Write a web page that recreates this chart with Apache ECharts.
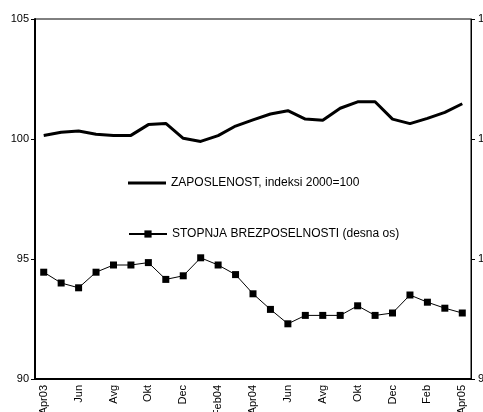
<!DOCTYPE html>
<html>
<head>
<meta charset="utf-8">
<script src="https://cdn.jsdelivr.net/npm/echarts@6/dist/echarts.min.js"></script>
<style>
    html, body { margin: 0; padding: 0; background: #fff; }
    #chart { width: 483px; height: 412px; }
</style>
</head>
<body>
<div id="chart"></div>
<script>
//======================================================================================================================
// Data
//======================================================================================================================

var months = ['Apr03', 'Maj', 'Jun', 'Jul', 'Avg', 'Sep', 'Okt', 'Nov', 'Dec', 'Jan', 'Feb04', 'Mar',
              'Apr04', 'Maj', 'Jun', 'Jul', 'Avg', 'Sep', 'Okt', 'Nov', 'Dec', 'Jan', 'Feb', 'Mar', 'Apr05'];

var employment = [100.15, 100.28, 100.33, 100.2, 100.15, 100.15, 100.6, 100.65, 100.03, 99.9, 100.14, 100.54,
                  100.8, 101.04, 101.18, 100.83, 100.78, 101.28, 101.55, 101.55, 100.83, 100.64, 100.86, 101.11, 101.47];

var unemployment = [9.89, 9.8, 9.76, 9.89, 9.95, 9.95, 9.97, 9.83, 9.86, 10.01, 9.95, 9.87,
                    9.71, 9.58, 9.46, 9.53, 9.53, 9.53, 9.61, 9.53, 9.55, 9.7, 9.64, 9.59, 9.55];

var leftTicks = { min: 90, max: 105, interval: 5 };
var rightTicks = { min: 9, max: 12, interval: 1 };

var seriesNames = ['ZAPOSLENOST, indeksi 2000=100', 'STOPNJA BREZPOSELNOSTI (desna os)'];

//======================================================================================================================
// Chart
//======================================================================================================================

var font = 'Liberation Sans, Arial, sans-serif';
var axisText = { color: '#000', fontFamily: font, fontSize: 11 };
var legendText = { color: '#000', fontFamily: font, fontSize: 12 };

echarts.init(document.getElementById('chart')).setOption({
    backgroundColor: '#fff',
    animation: false,
    grid: {
        left: 35, right: 12, top: 19, bottom: 33,
        outerBoundsMode: 'none',
        containLabel: false,
        show: true, borderColor: '#000', borderWidth: 1
    },
    legend: [{
        left: 128, top: 177, padding: 0,
        itemWidth: 38, itemHeight: 3,
        icon: 'rect',
        textStyle: legendText,
        data: [seriesNames[0]]
    }, {
        left: 128, top: 228, padding: 0,
        itemWidth: 38, itemHeight: 9,
        textStyle: legendText,
        data: [seriesNames[1]]
    }],
    xAxis: {
        type: 'category',
        data: months,
        boundaryGap: true,
        axisLine: { lineStyle: { color: '#000', width: 2 } },
        axisTick: { interval: 0, length: 4, lineStyle: { color: '#000' } },
        axisLabel: Object.assign({ interval: 1, rotate: 90, margin: 6 }, axisText),
        splitLine: { show: false }
    },
    yAxis: [{
        type: 'value',
        min: leftTicks.min, max: leftTicks.max, interval: leftTicks.interval,
        axisLine: { show: true, lineStyle: { color: '#000', width: 2 } },
        axisTick: { show: true, length: 4, lineStyle: { color: '#000' } },
        axisLabel: Object.assign({ margin: 6 }, axisText),
        splitLine: { show: false }
    }, {
        type: 'value',
        position: 'right',
        min: rightTicks.min, max: rightTicks.max, interval: rightTicks.interval,
        axisLine: { show: true, lineStyle: { color: '#000', width: 1 } },
        axisTick: { show: true, length: 4, lineStyle: { color: '#000' } },
        axisLabel: Object.assign({ margin: 7 }, axisText),
        splitLine: { show: false }
    }],
    series: [{
        name: seriesNames[0],
        type: 'line',
        yAxisIndex: 0,
        data: employment,
        symbol: 'none',
        lineStyle: { color: '#000', width: 3 },
        itemStyle: { color: '#000' }
    }, {
        name: seriesNames[1],
        type: 'line',
        yAxisIndex: 1,
        data: unemployment,
        symbol: 'rect',
        symbolSize: 7,
        lineStyle: { color: '#000', width: 1 },
        itemStyle: { color: '#000' }
    }]
});
</script>
</body>
</html>
